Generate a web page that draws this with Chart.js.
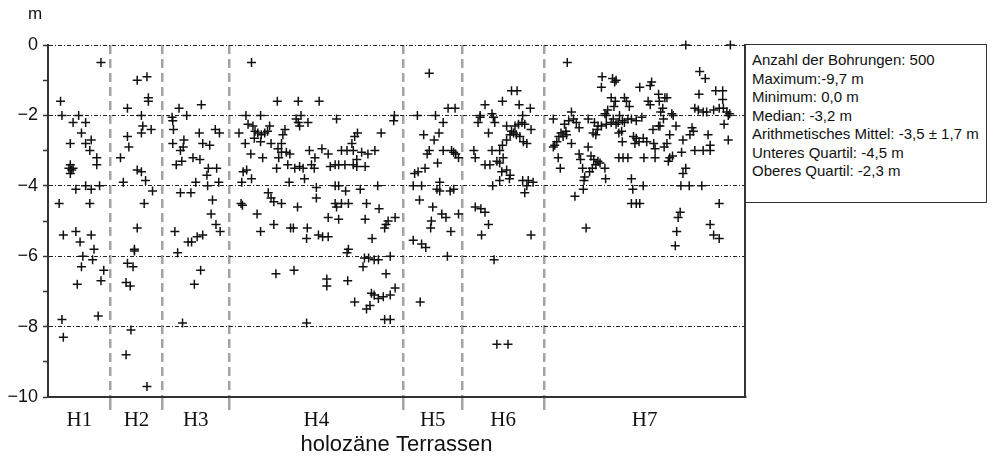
<!DOCTYPE html>
<html><head><meta charset="utf-8">
<script src="https://cdn.jsdelivr.net/npm/chart.js@4.4.1/dist/chart.umd.min.js"></script>
<style>
html,body{margin:0;padding:0;background:#fff;}
#wrap{position:relative;width:993px;height:459px;overflow:hidden;}
canvas{position:absolute;left:0;top:0;}
#unit{position:absolute;left:28px;top:4px;font:17px "Liberation Sans",Arial,sans-serif;color:#111;}
#stats{position:absolute;left:745px;top:44px;width:242px;height:159px;border:1.5px solid #333;box-sizing:border-box;padding:6px 0 0 6px;font:15px "Liberation Sans",Arial,sans-serif;line-height:18.5px;color:#111;white-space:nowrap;background:#fff;}
</style></head>
<body>
<div id="wrap">
<canvas id="c" width="993" height="459"></canvas>
<div id="unit">m</div>
<div id="stats"></div>
</div>
<script>
// Terrace groups and their borehole index boundaries
const categories = ['H1','H2','H3','H4','H5','H6','H7'];
const boundaries = [0, 45, 82, 130, 255, 297, 356, 500];
const yTicks = [0, -2, -4, -6, -8, -10];
const statLines = [
  'Anzahl der Bohrungen: 500',
  'Maximum:-9,7 m',
  'Minimum: 0,0 m',
  'Median: -3,2 m',
  'Arithmetisches Mittel: -3,5 \u00b1 1,7 m',
  'Unteres Quartil: -4,5 m',
  'Oberes Quartil: -2,3 m'
];
// [borehole index, depth in m]
const H1 = [[38,-0.5],[9,-1.6],[10,-2.0],[22,-2.0],[18,-2.2],[27,-2.2],[24,-2.5],[16,-2.8],[27,-2.8],[31,-2.7],[30,-3.0],[35,-3.2],[35,-3.4],[16,-3.4],[15,-3.5],[17,-3.55],[16,-3.65],[18,-3.5],[20,-4.1],[27,-4.0],[31,-4.1],[37,-4.0],[8,-4.5],[30,-4.5],[11,-5.4],[20,-5.3],[31,-5.4],[23,-5.6],[33,-5.8],[25,-6.0],[32,-6.1],[24,-6.3],[40,-6.4],[38,-6.7],[21,-6.8],[10,-7.8],[36,-7.7],[11,-8.3]];
const H2 = [[64,-1.0],[71,-0.9],[72,-1.5],[72,-1.6],[57,-1.8],[67,-2.0],[68,-2.3],[67,-2.5],[74,-2.4],[57,-2.6],[58,-2.9],[52,-3.2],[64,-3.55],[67,-3.6],[70,-3.85],[54,-3.9],[75,-4.15],[69,-4.5],[64,-5.2],[62,-5.8],[62,-5.85],[57,-6.2],[61,-6.3],[56,-6.75],[59,-6.85],[59.5,-8.1],[56,-8.8],[71,-9.7]];
const H3 = [[94,-1.8],[110,-1.7],[89,-2.05],[89.5,-2.15],[99.5,-2.0],[90,-2.4],[108.5,-2.5],[120,-2.4],[123,-2.5],[89.5,-2.8],[97.5,-2.7],[97,-2.9],[95,-3.0],[111,-2.8],[116,-2.85],[104,-3.2],[109,-3.25],[96,-3.3],[92,-3.4],[115,-3.5],[121,-3.5],[114,-3.7],[106,-3.9],[114.5,-4.0],[122.5,-3.9],[95,-4.2],[102.5,-4.2],[118,-4.4],[117,-4.8],[120.5,-5.1],[123.5,-5.3],[91,-5.3],[107,-5.45],[111,-5.4],[100.5,-5.6],[103,-5.6],[93,-5.9],[109.5,-6.4],[105,-6.8],[96.5,-7.9]];
const H4 = [[146,-0.5],[164.5,-1.6],[179.5,-1.6],[194.5,-1.6],[142,-2.0],[152.5,-2.0],[178,-2.1],[181.5,-2.0],[180.5,-2.3],[186.5,-2.2],[179.5,-2.2],[137,-2.5],[143.5,-2.25],[147,-2.3],[148.5,-2.45],[150.5,-2.5],[153,-2.55],[155.5,-2.5],[157.5,-2.45],[159,-2.3],[148,-2.65],[152.5,-2.75],[141.5,-2.8],[160,-2.8],[168.5,-2.55],[167.5,-2.8],[170,-2.4],[145.5,-3.1],[154,-3.2],[165,-2.95],[167.5,-3.05],[171,-3.05],[173.5,-3.1],[165.5,-3.2],[187.5,-3.0],[191.5,-3.2],[164,-3.5],[172,-3.4],[177,-3.5],[180.5,-3.45],[183,-3.5],[189,-3.4],[191,-3.5],[140,-3.6],[142.5,-3.55],[139,-3.9],[146,-3.8],[173,-3.9],[184,-3.8],[192.5,-4.05],[192.5,-4.35],[158,-4.2],[160,-4.35],[162,-4.45],[167.5,-4.5],[179,-4.6],[138.5,-4.5],[139.5,-4.55],[150,-4.8],[152.5,-5.3],[162,-5.1],[174,-5.2],[176,-5.2],[186,-5.2],[185.5,-5.5],[194,-5.4],[163.5,-6.5],[176.5,-6.4],[185.5,-7.9],
  [207,-2.1],[248.5,-2.0],[248,-2.15],[222,-2.5],[220,-2.6],[239,-2.5],[218,-2.8],[196.5,-2.95],[201,-3.1],[210.5,-3.0],[214.5,-3.0],[219,-3.0],[225,-3.05],[229.5,-3.1],[234.5,-3.0],[221.5,-3.25],[202.5,-3.45],[206,-3.4],[208.5,-3.4],[213,-3.4],[219,-3.4],[221.5,-3.45],[227.5,-3.45],[206,-4.0],[208.5,-4.0],[213.5,-4.15],[224,-4.1],[236.5,-4.0],[206,-4.5],[207,-4.6],[210.5,-4.5],[215.5,-4.5],[228.5,-4.5],[237.5,-4.65],[201,-4.9],[208.5,-4.95],[227.5,-4.95],[242.5,-5.1],[244,-5.0],[249,-4.9],[241.5,-5.2],[197,-5.45],[201,-5.45],[232.5,-5.5],[215.5,-5.8],[214.5,-5.9],[227,-6.05],[230,-6.05],[234,-6.1],[237,-6.1],[226,-6.3],[245.5,-6.0],[242.5,-6.5],[200,-6.65],[200,-6.85],[215,-6.7],[249,-6.9],[232,-7.05],[234,-7.1],[237,-7.2],[240.5,-7.15],[245.5,-7.1],[220,-7.3],[228.5,-7.5],[231,-7.4],[241.5,-7.8],[245.5,-7.8]];
const H5 = [[273.5,-0.8],[287,-1.8],[292,-1.8],[265,-2.0],[278,-2.0],[283.5,-2.2],[280.5,-2.5],[269.5,-2.55],[277,-2.7],[273.5,-3.0],[272,-3.1],[283.5,-3.0],[289.5,-3.0],[291,-3.05],[292.5,-3.1],[294.5,-3.2],[279.5,-3.35],[270.5,-3.5],[265.5,-3.6],[263,-3.65],[281,-3.9],[262,-4.0],[268,-4.0],[279,-4.1],[281,-4.15],[288.5,-4.15],[291,-4.1],[266.5,-4.4],[276,-4.6],[282.5,-4.8],[285.5,-4.9],[294.5,-4.8],[275,-5.0],[274.5,-5.2],[289,-5.3],[262,-5.55],[268,-5.65],[271,-5.75],[286.5,-6.0],[267,-7.3]];
const H6 = [[332.5,-1.3],[336.5,-1.3],[313.5,-1.7],[326,-1.6],[338,-1.7],[346,-1.8],[310,-2.0],[308.5,-2.2],[310,-2.05],[318.5,-1.95],[319.5,-2.05],[320.5,-2.2],[340.5,-2.0],[340,-2.2],[329,-2.3],[335,-2.3],[337.5,-2.25],[342,-2.25],[346.5,-2.4],[316,-2.5],[332.5,-2.45],[334,-2.5],[331.5,-2.55],[336,-2.55],[329,-2.7],[338.5,-2.6],[341,-2.75],[343.5,-2.8],[326,-2.85],[305.5,-3.0],[306.5,-3.2],[318.5,-3.0],[324,-3.0],[313.5,-3.4],[317,-3.4],[322,-3.3],[324,-3.35],[326.5,-3.2],[325.5,-3.6],[329,-3.55],[331.5,-3.7],[331,-3.8],[319,-4.0],[324,-3.85],[340.5,-3.85],[344.5,-3.85],[348,-3.9],[343.5,-4.0],[342,-4.2],[306.5,-4.6],[310.5,-4.65],[313.5,-4.75],[316,-5.1],[311,-5.4],[346.5,-5.4],[320,-6.1],[322,-8.5],[330,-8.5]];
const H7 = [[372.5,-0.5],[397.5,-0.9],[405,-0.95],[406.5,-1.05],[407.5,-1.0],[397,-1.2],[424.5,-1.2],[404,-1.5],[407,-1.6],[406,-1.75],[413.5,-1.5],[415,-1.6],[417,-1.75],[401.5,-1.85],[400.5,-2.0],[399.5,-1.95],[362.5,-2.1],[375.5,-1.9],[377,-2.1],[373.5,-2.15],[379,-2.2],[381,-2.35],[387.5,-2.1],[392,-2.2],[394.5,-2.3],[394,-2.4],[391,-2.5],[393,-2.55],[397,-2.3],[400.5,-2.25],[404,-2.2],[405.5,-2.1],[409,-2.2],[407.5,-2.25],[410,-2.0],[412,-2.15],[413.5,-2.2],[416,-2.1],[418.5,-2.1],[422,-2.15],[409.5,-2.5],[411.5,-2.45],[370.5,-2.25],[371.5,-2.45],[368,-2.5],[366.5,-2.6],[369.5,-2.6],[372,-2.55],[365,-2.75],[363.5,-2.85],[362.5,-2.9],[375.5,-2.8],[412,-2.75],[387.5,-2.9],[420,-2.6],[422,-2.65],[421,-2.8],[424,-2.75],[366,-3.2],[367.5,-3.5],[381,-3.1],[382,-3.25],[383.5,-3.5],[385,-3.75],[384.5,-3.85],[384,-4.1],[389.5,-3.15],[391.5,-3.25],[393,-3.4],[394.5,-3.3],[396,-3.35],[399.5,-3.5],[388.5,-3.6],[390.5,-3.5],[400,-3.8],[409.5,-3.2],[412.5,-3.2],[416,-3.2],[418.5,-3.8],[419.5,-4.1],[418.5,-4.5],[422,-4.5],[424.5,-4.5],[378,-4.3],[386,-5.2],
  [457.5,0],[489.5,0],[467.5,-0.75],[471.5,-0.95],[433,-1.05],[432,-1.15],[438,-1.4],[442.5,-1.5],[444,-1.5],[438.5,-1.6],[430.5,-1.6],[432,-1.7],[467,-1.4],[479,-1.3],[484,-1.3],[484,-1.55],[464,-1.8],[466.5,-1.85],[470,-1.9],[472.5,-1.9],[477.5,-1.85],[481.5,-1.8],[484.5,-1.8],[487,-1.9],[488,-2.0],[489,-1.95],[426,-2.05],[441,-1.8],[439.5,-1.9],[447.5,-1.95],[448.5,-2.0],[441.5,-2.1],[439,-2.3],[434,-2.4],[438,-2.3],[450.5,-2.3],[485,-2.25],[462,-2.35],[463,-2.45],[460.5,-2.55],[427,-2.65],[429.5,-2.75],[434.5,-2.8],[435.5,-2.95],[442,-2.9],[444,-2.8],[446,-2.55],[455.5,-2.7],[473.5,-2.55],[475,-2.85],[464,-3.0],[470,-3.0],[475,-3.0],[488,-2.7],[454.5,-3.05],[427.5,-3.2],[435.5,-3.2],[446,-3.2],[445,-3.3],[448,-3.15],[457.5,-3.5],[455.5,-3.65],[454,-4.0],[460,-4.0],[469,-4.0],[427,-4.0],[481.5,-4.5],[453.5,-4.75],[452,-4.9],[451,-5.3],[475,-5.1],[477.5,-5.4],[481.5,-5.5],[450,-5.7]];
const groups = [H1, H2, H3, H4, H5, H6, H7];

document.getElementById('stats').innerHTML = statLines.map(s => '<div>' + s.replace(/&/g,'&amp;') + '</div>').join('');

const separators = boundaries.slice(1, -1);
const centers = categories.map((c, i) => (boundaries[i] + boundaries[i + 1]) / 2);
const xTickVals = separators.concat(centers).sort((a, b) => a - b);
const isSep = v => separators.includes(v);
const labelFor = v => { const i = centers.indexOf(v); return i >= 0 ? categories[i] : ''; };
const CLEAR = 'rgba(0,0,0,0)';
const SANS = '"Liberation Sans", Arial, sans-serif';

const datasets = groups.map((g, i) => ({
  label: categories[i],
  data: g.map(p => ({x: p[0], y: p[1]})),
  pointStyle: 'cross',
  pointRadius: 4.5,
  pointHoverRadius: 4.5,
  pointBorderWidth: 1.5,
  borderColor: '#111',
  backgroundColor: '#111',
  clip: false
}));

new Chart(document.getElementById('c'), {
  type: 'scatter',
  data: { datasets },
  options: {
    responsive: false,
    animation: false,
    devicePixelRatio: 1,
    layout: { padding: { left: 0, top: 45, right: 248, bottom: 0 } },
    plugins: { legend: { display: false }, tooltip: { enabled: false } },
    scales: {
      x: {
        type: 'linear', min: boundaries[0], max: boundaries[boundaries.length - 1],
        afterBuildTicks: s => { s.ticks = xTickVals.map(v => ({ value: v })); },
        afterFit: s => { s.height = 62; },
        ticks: { autoSkip: false, maxRotation: 0, minRotation: 0, padding: -2,
          callback: v => labelFor(v),
          font: { family: '"Liberation Serif", "Times New Roman", serif', size: 21 }, color: '#111' },
        grid: { color: c => isSep(c.tick && c.tick.value) ? '#a3a3a3' : CLEAR, lineWidth: 2.5,
          tickColor: c => isSep(c.tick && c.tick.value) ? '#a3a3a3' : CLEAR, tickLength: 13, tickWidth: 2.5 },
        border: { display: true, color: '#333', width: 2, dash: [9, 5] },
        title: { display: true, text: 'holozäne Terrassen', color: '#111',
          font: { family: SANS, size: 22 }, padding: { top: 0, bottom: 1 } }
      },
      y: {
        min: yTicks[yTicks.length - 1], max: yTicks[0],
        afterFit: s => { s.width = 48; },
        ticks: { stepSize: 1, autoSkip: false, padding: 5,
          callback: v => yTicks.includes(v) ? String(v).replace('-', '\u2212') : '',
          font: { family: SANS, size: 18 }, color: '#111' },
        grid: { color: c => (c.tick && yTicks.includes(c.tick.value) && c.tick.value !== yTicks[yTicks.length - 1]) ? '#222' : CLEAR,
          lineWidth: 1, tickColor: '#333', tickLength: 5, tickWidth: 1.5 },
        border: { display: true, color: '#333', width: 2, dash: [4, 2, 1, 2] }
      },
      yr: {
        position: 'right', min: -10, max: 0,
        afterFit: s => { s.width = 0; },
        ticks: { display: false },
        grid: { display: false, drawTicks: false },
        border: { display: true, color: '#333', width: 2 }
      }
    }
  }
});
</script>
</body></html>
